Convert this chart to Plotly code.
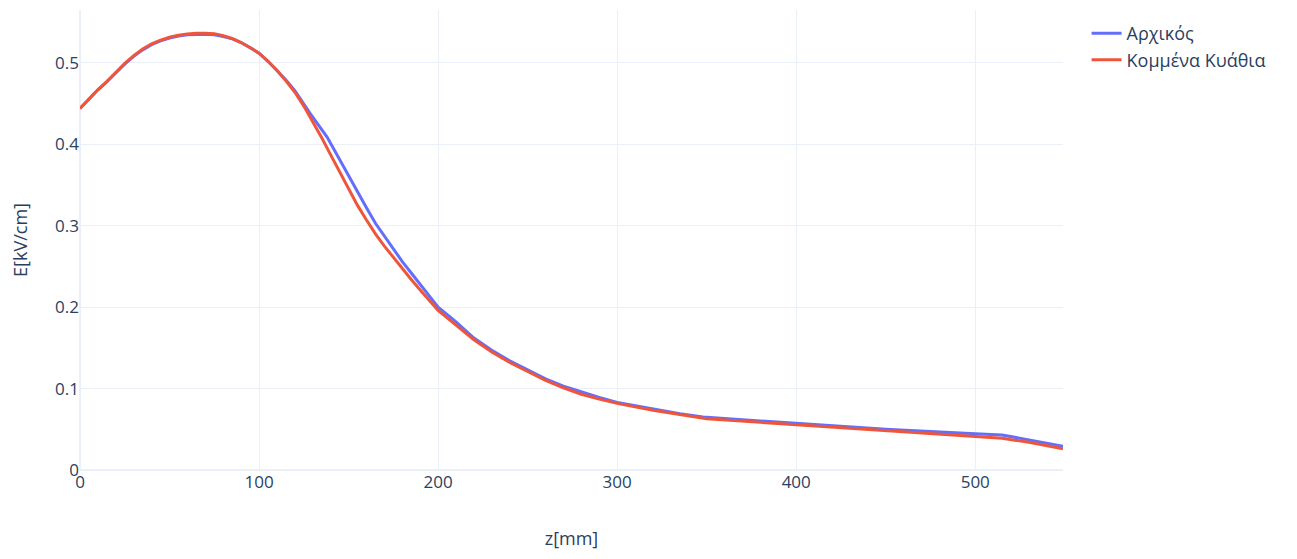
import plotly.graph_objects as go

x_blue = [0, 5, 10, 15, 20, 25, 30, 35, 40, 45, 50, 55, 60, 65, 70, 75, 80, 85, 90, 95, 100,
          105, 110, 115, 120, 128.5, 138, 145, 150, 155, 160, 165, 170, 175, 180, 185, 190,
          195, 200, 210, 220, 230, 240, 250, 260, 270, 280, 290, 300, 320, 335, 348, 400,
          450, 500, 515, 530, 549]
y_blue = [0.444, 0.456, 0.467, 0.477, 0.488, 0.4985, 0.508, 0.516, 0.5225, 0.527, 0.5305,
          0.533, 0.5345, 0.5352, 0.5352, 0.5345, 0.5325, 0.5295, 0.525, 0.519, 0.512,
          0.502, 0.491, 0.479, 0.466, 0.438, 0.409, 0.381, 0.361, 0.342, 0.322, 0.303,
          0.287, 0.271, 0.256, 0.242, 0.228, 0.214, 0.200, 0.182, 0.162, 0.147, 0.134,
          0.123, 0.112, 0.103, 0.096, 0.089, 0.083, 0.0745, 0.069, 0.065, 0.057,
          0.050, 0.0445, 0.043, 0.037, 0.029]

x_red = [0, 5, 10, 15, 20, 25, 30, 35, 40, 45, 50, 55, 60, 65, 70, 75, 80, 85, 90, 95, 100,
         105, 110, 115, 120, 125, 130, 135, 140, 145, 150, 155, 160, 165, 170, 175, 180,
         185, 190, 195, 200, 210, 220, 230, 240, 250, 260, 270, 280, 290, 300, 320, 335,
         350, 400, 450, 500, 515, 530, 549]
y_red = [0.444, 0.456, 0.467, 0.477, 0.488, 0.4995, 0.509, 0.517, 0.5235, 0.528, 0.5315,
         0.534, 0.5355, 0.5365, 0.5365, 0.5357, 0.5335, 0.530, 0.525, 0.519, 0.512,
         0.502, 0.491, 0.478, 0.464, 0.447, 0.428, 0.408, 0.387, 0.366, 0.345, 0.325,
         0.307, 0.290, 0.275, 0.261, 0.247, 0.234, 0.221, 0.208, 0.196, 0.178, 0.160,
         0.145, 0.132, 0.121, 0.110, 0.101, 0.093, 0.087, 0.0818, 0.0735, 0.068,
         0.063, 0.0556, 0.048, 0.0412, 0.039, 0.034, 0.026]

names = ["Αρχικός", "Κομμένα Κυάθια"]

fig = go.Figure()
fig.add_trace(go.Scatter(x=x_blue, y=y_blue, mode="lines", name=names[0],
                         line=dict(color="#636efa", width=3)))
fig.add_trace(go.Scatter(x=x_red, y=y_red, mode="lines", name=names[1],
                         line=dict(color="#EF553B", width=3)))

fig.update_layout(
    template="plotly_white",
    width=1297, height=559,
    margin=dict(l=72, r=242, t=2, b=97),
    font=dict(family="Open Sans", size=18),
    xaxis=dict(title=dict(text="z[mm]", font=dict(size=18), standoff=40), range=[0, 549],
               dtick=100, zeroline=True, tickfont=dict(size=17)),
    yaxis=dict(title=dict(text="E[kV/cm]", font=dict(size=18), standoff=24), range=[0, 0.565],
               dtick=0.1, tickfont=dict(size=17)),
    legend=dict(font=dict(size=18), x=1.024, y=0.989),
)
fig.write_html("out.html")
